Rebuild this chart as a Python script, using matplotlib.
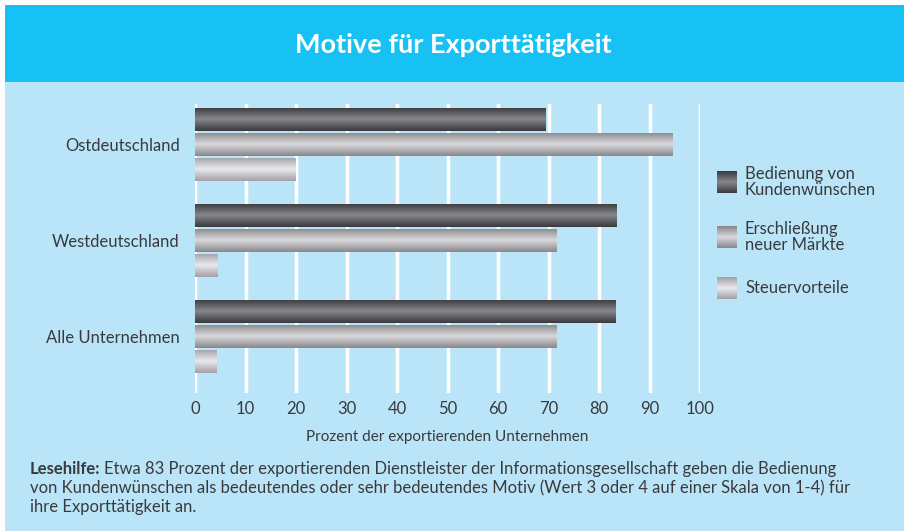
import numpy as np
import matplotlib
matplotlib.use('Agg')
import matplotlib.pyplot as plt
from matplotlib.patches import Rectangle

plt.rcParams['font.family'] = ['Lato', 'DejaVu Sans']

# Daten
regionen = ['Ostdeutschland', 'Westdeutschland', 'Alle Unternehmen']
motive = ['Bedienung von\nKundenwünschen', 'Erschließung\nneuer Märkte', 'Steuervorteile']
bedienung = [69.5, 83.5, 83.3]
erschliessung = [94.5, 71.5, 71.5]
steuer = [20, 4.5, 4.3]
xticks = [0, 10, 20, 30, 40, 50, 60, 70, 80, 90, 100]

W, H = 906, 531
txt = '#3a3a3c'
hell = '#bae5f8'
kopf = '#17c1f3'

# Verlauf je Serie: (Rand, Mitte)
verlauf = [('#3a3a3c', '#86878b'), ('#88888c', '#d9d9db'), ('#a2a2a6', '#e9e9eb')]


def gradient(rand, mitte, n=64):
    c0 = np.array(matplotlib.colors.to_rgb(rand))
    c1 = np.array(matplotlib.colors.to_rgb(mitte))
    t = np.linspace(0, 1, n)
    w = 1 - np.abs(2 * t - 1)
    return (c0[None, :] * (1 - w[:, None]) + c1[None, :] * w[:, None])[:, None, :]


fig = plt.figure(figsize=(W / 100, H / 100), dpi=100)
fig.patch.set_facecolor('white')
# Hintergrund + Kopfzeile
fig.patches.append(Rectangle((5 / W, 0), (W - 7) / W, (H - 5) / H, transform=fig.transFigure,
                             facecolor=hell, edgecolor='none', zorder=-10))
fig.patches.append(Rectangle((5 / W, 1 - 82 / H), (W - 7) / W, 77 / H, transform=fig.transFigure,
                             facecolor=kopf, edgecolor='none', zorder=-10))
fig.text(453 / W, 1 - 45 / H, 'Motive für Exporttätigkeit', color='white', fontsize=19.5,
         fontweight='bold', ha='center', va='center')

# Achse
top_px, bot_px = 104, 393
y0 = (top_px - 144.5) / 96
y1 = (bot_px - 144.5) / 96
pos = np.arange(len(regionen))
h = 0.24
step = 0.26
serien = [bedienung, erschliessung, steuer]

ax = fig.add_axes([195 / W, 1 - bot_px / H, 505 / W, (bot_px - top_px) / H])
ax.patch.set_alpha(0)
for s in ax.spines.values():
    s.set_visible(False)
for i, werte in enumerate(serien):
    bars = ax.barh(pos + (i - 1) * step, werte, height=h, color='none', zorder=3)
    for b, v in zip(bars, werte):
        yb = b.get_y()
        im = ax.imshow(gradient(*verlauf[i]), extent=[0, v, yb + h, yb], aspect='auto',
                       interpolation='bilinear', zorder=3)
        im.set_clip_path(b)
ax.set_ylim(y1, y0)
ax.set_xlim(0, 100)
ax.set_xticks(xticks)
ax.set_xticklabels([str(t) for t in xticks], fontsize=12, color=txt)
ax.grid(axis='x', color='white', lw=2.5)
ax.set_axisbelow(True)
ax.tick_params(axis='x', length=0, pad=6)
ax.set_yticks(pos)
ax.set_yticklabels(regionen, fontsize=12, color=txt)
ax.tick_params(axis='y', length=0, pad=11)
ax.set_xlabel('Prozent der exportierenden Unternehmen', fontsize=11, color=txt, labelpad=9)

# Legende
leg_y = [182, 237, 288]
for i, (lab, yy) in enumerate(zip(motive, leg_y)):
    lax = fig.add_axes([717 / W, 1 - (yy + 11) / H, 20 / W, 22 / H])
    lax.imshow(gradient(*verlauf[i]), aspect='auto', interpolation='bilinear')
    lax.axis('off')
    fig.text(745 / W, 1 - yy / H, lab, fontsize=12, color=txt, va='center', ha='left',
             linespacing=0.95)

# Lesehilfe
fs = 12
t1 = fig.text(30 / W, 1 - 474 / H, 'Lesehilfe:', fontsize=fs, fontweight='bold', color=txt,
              va='baseline')
fig.canvas.draw()
ende = t1.get_window_extent().x1
fig.text((ende + 4) / W, 1 - 474 / H,
         'Etwa 83 Prozent der exportierenden Dienstleister der Informationsgesellschaft geben die Bedienung',
         fontsize=fs, color=txt, va='baseline')
fig.text(30 / W, 1 - 493 / H,
         'von Kundenwünschen als bedeutendes oder sehr bedeutendes Motiv (Wert 3 oder 4 auf einer Skala von 1-4) für',
         fontsize=fs, color=txt, va='baseline')
fig.text(30 / W, 1 - 512 / H, 'ihre Exporttätigkeit an.', fontsize=fs, color=txt, va='baseline')

plt.savefig('out.png', dpi=100, facecolor=fig.get_facecolor())
